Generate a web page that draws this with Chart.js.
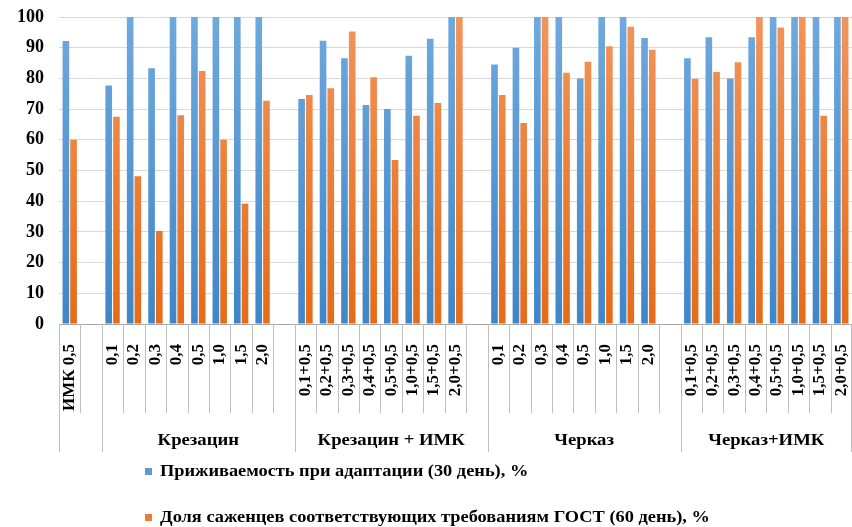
<!DOCTYPE html>
<html>
<head>
<meta charset="utf-8">
<script src="https://cdn.jsdelivr.net/npm/chart.js@4/dist/chart.umd.min.js"></script>
<style>
  html, body { margin: 0; padding: 0; background: #fff; }
  #wrap { position: relative; width: 852px; height: 527px; }
  #legend { position: absolute; left: 145px; top: 0; font: bold 17px "Liberation Serif", serif; color: #000; }
  .item { position: absolute; left: 0; white-space: nowrap; display: flex; align-items: center; height: 20px; }
  .sw { width: 7px; height: 7px; margin-right: 8px; flex: none; }
  .tx { display: inline-block; transform: scaleX(1.08); transform-origin: left center; }
</style>
</head>
<body>
<div id="wrap">
  <canvas id="c" width="852" height="527"></canvas>
  <div id="legend"></div>
</div>
<script>
// Concentrations per treatment ('' = spacer column between groups)
const categories = [
  'ИМК 0,5', '',
  '0,1', '0,2', '0,3', '0,4', '0,5', '1,0', '1,5', '2,0', '',
  '0,1+0,5', '0,2+0,5', '0,3+0,5', '0,4+0,5', '0,5+0,5', '1,0+0,5', '1,5+0,5', '2,0+0,5', '',
  '0,1', '0,2', '0,3', '0,4', '0,5', '1,0', '1,5', '2,0', '',
  '0,1+0,5', '0,2+0,5', '0,3+0,5', '0,4+0,5', '0,5+0,5', '1,0+0,5', '1,5+0,5', '2,0+0,5'
];

// Group captions under the concentrations and how many columns each spans
const groupNames = ['', 'Крезацин', 'Крезацин + ИМК', 'Черказ', 'Черказ+ИМК'];
const groupSizes = [2, 9, 9, 9, 8];

const seriesNames = [
  'Приживаемость при адаптации (30 день), %',
  'Доля саженцев соответствующих требованиям ГОСТ (60 день), %'
];

// Survival during adaptation, day 30, %
const survival = [
  92.2, null,
  77.7, 100, 83.3, 100, 100, 100, 100, 100, null,
  73.3, 92.3, 86.6, 71.3, 70.0, 87.4, 92.9, 100, null,
  84.5, 90.0, 100, 100, 80.0, 100, 100, 93.2, null,
  86.6, 93.4, 80.0, 93.4, 100, 100, 100, 100
];

// Share of plantlets meeting GOST requirements, day 60, %
const gostShare = [
  60.0, null,
  67.5, 48.1, 30.3, 68.0, 82.4, 60.0, 39.2, 72.7, null,
  74.6, 76.8, 95.3, 80.4, 53.4, 67.8, 72.0, 100, null,
  74.6, 65.5, 100, 81.8, 85.4, 90.5, 96.8, 89.3, null,
  79.9, 82.1, 85.3, 100, 96.6, 100, 67.8, 100
];

const yTicks = [0, 10, 20, 30, 40, 50, 60, 70, 80, 90, 100];

const swatchColors = ['#5B9BD5', '#ED7D31'];
const gradStops = [
  ['#6FA9DD', '#3F86C8'],
  ['#F2955C', '#E56B17']
];

function barFill(idx) {
  return (ctx) => {
    const chart = ctx.chart;
    const area = chart.chartArea;
    if (!area) return swatchColors[idx];
    const g = chart.ctx.createLinearGradient(0, area.top, 0, area.bottom);
    g.addColorStop(0, gradStops[idx][0]);
    g.addColorStop(1, gradStops[idx][1]);
    return g;
  };
}

const SERIF = '"Liberation Serif", "Times New Roman", serif';

// Separators and group captions below the category axis
const groupAxis = {
  id: 'groupAxis',
  afterDraw(chart) {
    const x = chart.scales.x;
    const ctx = chart.ctx;
    const n = categories.length;
    const w = (x.right - x.left) / n;
    const y0 = x.top;
    const shortEnd = y0 + 89;
    const longEnd = y0 + 128;
    const bounds = [0];
    groupSizes.forEach((s, i) => bounds.push(bounds[i] + s));

    ctx.save();
    ctx.strokeStyle = '#BFBFBF';
    ctx.lineWidth = 1;
    for (let i = 0; i <= n; i++) {
      const px = Math.min(Math.round(x.left + i * w) + 0.5, chart.width - 0.5);
      const end = bounds.includes(i) ? longEnd : shortEnd;
      ctx.beginPath();
      ctx.moveTo(px, y0);
      ctx.lineTo(px, end);
      ctx.stroke();
    }
    ctx.fillStyle = '#000';
    ctx.font = 'bold 17px ' + SERIF;
    ctx.textAlign = 'center';
    ctx.textBaseline = 'middle';
    groupNames.forEach((name, i) => {
      if (!name) return;
      const cx = x.left + (bounds[i] + bounds[i + 1]) / 2 * w;
      ctx.save();
      ctx.translate(cx, y0 + 117);
      ctx.scale(1.1, 1);
      ctx.fillText(name, 0, 0);
      ctx.restore();
    });
    ctx.restore();
  }
};

new Chart(document.getElementById('c'), {
  type: 'bar',
  data: {
    labels: categories,
    datasets: [
      { label: seriesNames[0], data: survival, backgroundColor: barFill(0) },
      { label: seriesNames[1], data: gostShare, backgroundColor: barFill(1) }
    ]
  },
  options: {
    responsive: false,
    animation: false,
    categoryPercentage: 0.72,
    barPercentage: 0.86,
    layout: { padding: { top: 17, bottom: 75, left: 0, right: 0 } },
    plugins: {
      legend: { display: false },
      tooltip: { enabled: false }
    },
    scales: {
      x: {
        grid: { display: false },
        border: { display: true, color: '#A6A6A6', width: 1 },
        ticks: {
          autoSkip: false,
          minRotation: 90,
          maxRotation: 90,
          padding: 12,
          color: '#000',
          font: { family: SERIF, size: 17, weight: 'bold' }
        },
        afterFit(scale) {
          scale.height = 128;
          scale.paddingLeft = 0;
          scale.paddingRight = 0;
        }
      },
      y: {
        min: 0,
        max: 100,
        afterBuildTicks(scale) { scale.ticks = yTicks.map(v => ({ value: v })); },
        grid: { color: '#D9D9D9', drawTicks: false },
        border: { display: false },
        ticks: {
          padding: 15,
          color: '#000',
          font: { family: SERIF, size: 18, weight: 'bold' }
        },
        afterFit(scale) {
          scale.width = 59;
          scale.paddingTop = 0;
          scale.paddingBottom = 0;
        }
      }
    }
  },
  plugins: [groupAxis]
});

// Legend: one entry per line, left-aligned
const legend = document.getElementById('legend');
const legendTops = [461, 507];
seriesNames.forEach((name, i) => {
  const item = document.createElement('div');
  item.className = 'item';
  item.style.top = legendTops[i] + 'px';
  const sw = document.createElement('span');
  sw.className = 'sw';
  sw.style.background = swatchColors[i];
  const tx = document.createElement('span');
  tx.className = 'tx';
  tx.textContent = name;
  item.appendChild(sw);
  item.appendChild(tx);
  legend.appendChild(item);
});
</script>
</body>
</html>
